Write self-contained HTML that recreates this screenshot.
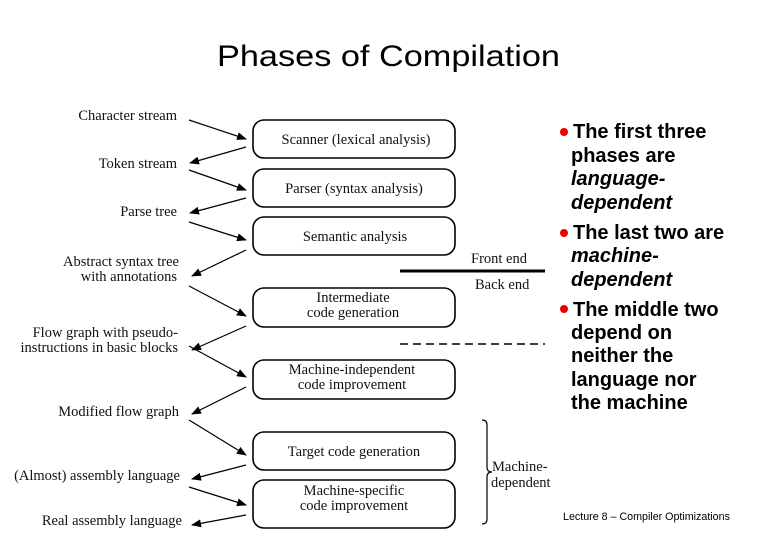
<!DOCTYPE html>
<html><head><style>
html,body{margin:0;padding:0;background:#fff;}
svg{display:block}
.s{font-family:"Liberation Serif",serif;font-size:14.5px;fill:#111}
.a{font-family:"Liberation Sans",sans-serif;font-size:20px;font-weight:bold;fill:#000}
</style></head><body>
<svg width="780" height="540" viewBox="0 0 780 540" xmlns="http://www.w3.org/2000/svg">
<defs><marker id="ar" markerWidth="10" markerHeight="8" refX="9" refY="4" orient="auto" markerUnits="userSpaceOnUse"><path d="M0,0 L10,4 L0,8 z" fill="#000"/></marker></defs>
<text x="217" y="66" textLength="343" lengthAdjust="spacingAndGlyphs" font-family="Liberation Sans,sans-serif" font-size="30" fill="#000">Phases of Compilation</text>
<g fill="none" stroke="#000" stroke-width="1.6">
<rect x="253" y="120" width="202" height="38" rx="11"/>
<rect x="253" y="169" width="202" height="38" rx="11"/>
<rect x="253" y="217" width="202" height="38" rx="11"/>
<rect x="253" y="288" width="202" height="39" rx="11"/>
<rect x="253" y="360" width="202" height="39" rx="11"/>
<rect x="253" y="432" width="202" height="38" rx="11"/>
<rect x="253" y="480" width="202" height="48" rx="11"/>
</g>
<g class="s" text-anchor="middle">
<text x="356" y="144">Scanner (lexical analysis)</text>
<text x="354" y="193">Parser (syntax analysis)</text>
<text x="355" y="241">Semantic analysis</text>
<text x="353" y="302">Intermediate</text><text x="353" y="317">code generation</text>
<text x="352" y="374">Machine-independent</text><text x="352" y="389">code improvement</text>
<text x="354" y="456">Target code generation</text>
<text x="354" y="495">Machine-specific</text><text x="354" y="510">code improvement</text>
</g>
<g class="s" text-anchor="end">
<text x="177" y="120">Character stream</text>
<text x="177" y="168">Token stream</text>
<text x="177" y="216">Parse tree</text>
<text x="179" y="266">Abstract syntax tree</text><text x="177" y="281">with annotations</text>
<text x="178" y="337">Flow graph with pseudo-</text><text x="178" y="352">instructions in basic blocks</text>
<text x="179" y="416">Modified flow graph</text>
<text x="180" y="480">(Almost) assembly language</text>
<text x="182" y="525">Real assembly language</text>
</g>
<g stroke="#000" stroke-width="1.2" marker-end="url(#ar)">
<line x1="189" y1="120" x2="246" y2="139"/>
<line x1="246" y1="147" x2="190" y2="163"/>
<line x1="189" y1="170" x2="246" y2="190"/>
<line x1="246" y1="198" x2="190" y2="213"/>
<line x1="189" y1="222" x2="246" y2="240"/>
<line x1="246" y1="250" x2="192" y2="276"/>
<line x1="189" y1="286" x2="246" y2="316"/>
<line x1="246" y1="326" x2="192" y2="350"/>
<line x1="189" y1="346" x2="246" y2="377"/>
<line x1="246" y1="387" x2="192" y2="414"/>
<line x1="189" y1="420" x2="246" y2="455"/>
<line x1="246" y1="465" x2="192" y2="479"/>
<line x1="189" y1="487" x2="246" y2="505"/>
<line x1="246" y1="515" x2="192" y2="525"/>
</g>
<line x1="400" y1="271" x2="545" y2="271" stroke="#000" stroke-width="3"/>
<line x1="400" y1="344" x2="545" y2="344" stroke="#000" stroke-width="1.5" stroke-dasharray="8,5"/>
<text class="s" x="471" y="263">Front end</text>
<text class="s" x="475" y="289">Back end</text>
<path d="M482,420 q5,0 5,5 v42 q0,5 5,5 q-5,0 -5,5 v42 q0,5 -5,5" fill="none" stroke="#000" stroke-width="1.2"/>
<text class="s" x="492" y="471">Machine-</text><text class="s" x="491" y="487">dependent</text>
<g fill="#e00"><circle cx="564" cy="132" r="4"/><circle cx="564" cy="233" r="4"/><circle cx="564" cy="309" r="4"/></g>
<g class="a">
<text x="573" y="138">The first three</text>
<text x="571" y="162">phases are</text>
<text x="571" y="185" font-style="italic">language-</text>
<text x="571" y="209" font-style="italic">dependent</text>
<text x="573" y="239">The last two are</text>
<text x="571" y="262" font-style="italic">machine-</text>
<text x="571" y="286" font-style="italic">dependent</text>
<text x="573" y="316">The middle two</text>
<text x="571" y="339">depend on</text>
<text x="571" y="362">neither the</text>
<text x="571" y="386">language nor</text>
<text x="571" y="409">the machine</text>
</g>
<text x="563" y="520" font-family="Liberation Sans,sans-serif" font-size="10.7" fill="#000">Lecture 8 – Compiler Optimizations</text>
</svg>
</body></html>
